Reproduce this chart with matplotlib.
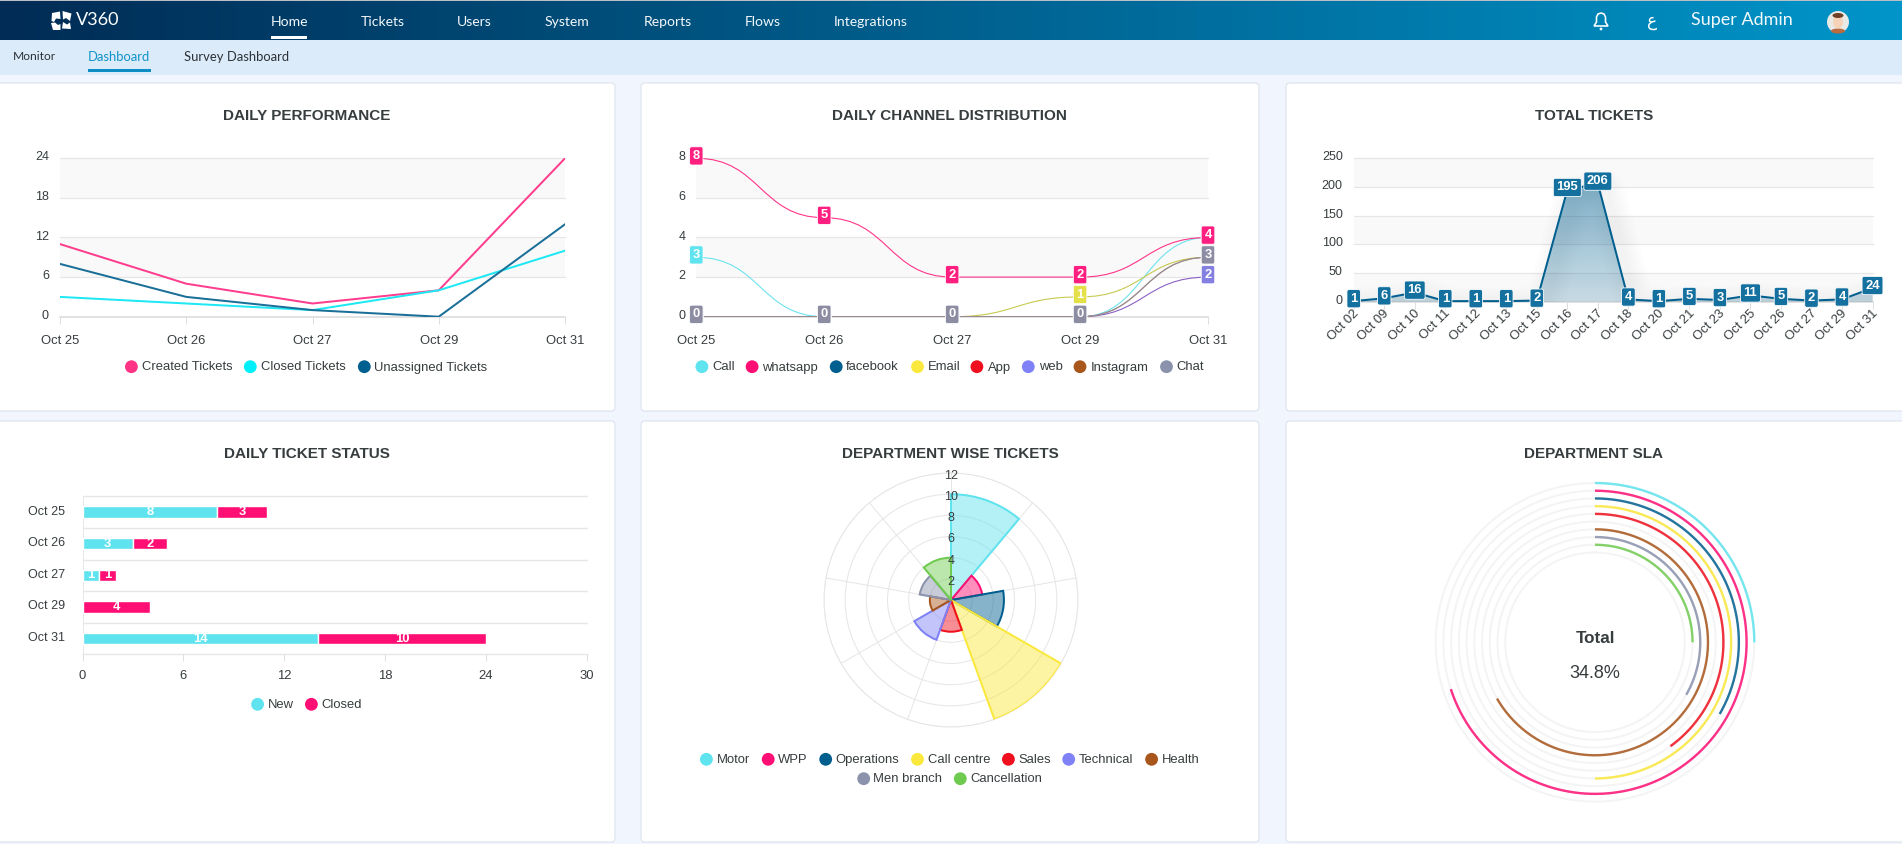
import numpy as np
import matplotlib
matplotlib.use("Agg")
import matplotlib.pyplot as plt
import matplotlib.transforms as mt
from matplotlib.patches import FancyBboxPatch, Rectangle, Circle, Polygon, Ellipse, PathPatch
from matplotlib.path import Path
from matplotlib.colors import to_rgb

W, H, DPI = 1902, 844, 100
plt.rcParams['font.family'] = ['Liberation Sans', 'DejaVu Sans']
INK = '#373d3f'
GRID = '#e6e6e6'
BAND = '#f9f9f9'
CYAN, PINK, NAVY, YEL, RED, VIO, BRN, SLATE, GRN = ('#5fe3ee', '#ff0f74', '#005f8f', '#fbe83c', '#f00f1e',
                                                    '#7f82f6', '#a8561c', '#8a92ac', '#6fcb50')
def pt(px):
    return px * 72 / DPI

# ---- data ----
perf_days = ['Oct 25', 'Oct 26', 'Oct 27', 'Oct 29', 'Oct 31']
perf_created = [11, 5, 2, 4, 24]
perf_closed = [3, 2, 1, 4, 10]
perf_unassigned = [8, 3, 1, 0, 14]

chan_call = [3, 0, 0, 0, 4]
chan_whatsapp = [8, 5, 2, 2, 4]
chan_facebook = [0, 0, 0, 0]
chan_email = [0, 0, 0, 1, 3]
chan_app = [0, 0, 0, 0]
chan_web = [0, 0, 0, 0, 2]
chan_instagram = [0, 0, 0, 0, 3]
chan_chat = [0, 0, 0, 0, 3]

total_days = ['Oct 02', 'Oct 09', 'Oct 10', 'Oct 11', 'Oct 12', 'Oct 13', 'Oct 15', 'Oct 16', 'Oct 17',
              'Oct 18', 'Oct 20', 'Oct 21', 'Oct 23', 'Oct 25', 'Oct 26', 'Oct 27', 'Oct 29', 'Oct 31']
total_values = [1, 6, 16, 1, 1, 1, 2, 195, 206, 4, 1, 5, 3, 11, 5, 2, 4, 24]

status_new = [8, 3, 1, 0, 14]
status_closed = [3, 2, 1, 4, 10]

dept_names = ['Motor', 'WPP', 'Operations', 'Call centre', 'Sales', 'Technical', 'Health', 'Men branch', 'Cancellation']
dept_tickets = [10, 3, 5, 12, 3, 4, 2, 3, 4]
dept_sla = [25, 70, 33.3, 50, 40, 0, 66.7, 33.3, 25]
dept_colors = [CYAN, PINK, NAVY, YEL, RED, VIO, BRN, SLATE, GRN]

fig = plt.figure(figsize=(W / DPI, H / DPI), dpi=DPI, facecolor='#f1f6fe')

def px_axes(l, t, r, b, z=1, **kw):
    ax = fig.add_axes([l / W, 1 - b / H, (r - l) / W, (b - t) / H], zorder=z, **kw)
    ax.patch.set_alpha(0)
    return ax

def nudge(dx, dy):
    return mt.ScaledTranslation(dx / DPI, dy / DPI, fig.dpi_scale_trans)

# ---- page chrome ----
bg = px_axes(0, 0, W, H, z=0)
bg.set_xlim(0, W); bg.set_ylim(H, 0); bg.axis('off')
bg.add_patch(Rectangle((0, 0), W, 1.2, fc='#b9bfc4', ec='none'))
bg.add_patch(Rectangle((0, 40), W, 35, fc='#dcebf9', ec='none'))
c0, c1 = np.array(to_rgb('#012c55')), np.array(to_rgb('#0095c9'))
ramp = np.linspace(0, 1, 256)[None, :, None]
bg.imshow(c0 + (c1 - c0) * ramp, extent=(0, W, 40, 1), aspect='auto', interpolation='bilinear')
bg.set_xlim(0, W); bg.set_ylim(H, 0)
for l, t, r, b in [(-10, 83, 615, 411), (641, 83, 1259, 411), (1286, 83, 1915, 411),
                   (-10, 421, 615, 842), (641, 421, 1259, 842), (1286, 421, 1915, 842)]:
    bg.add_patch(FancyBboxPatch((l, t), r - l, b - t, boxstyle='round,pad=0,rounding_size=4',
                                fc='white', ec='#dfe4ec', lw=pt(1.2)))

top = px_axes(0, 0, W, H, z=5)
top.set_xlim(0, W); top.set_ylim(H, 0); top.axis('off')

NAV = ['Lato', 'DejaVu Sans']
for name, x in [('Home', 289), ('Tickets', 383), ('Users', 474.3), ('System', 567.3),
                ('Reports', 667.6), ('Flows', 762.6), ('Integrations', 870.5)]:
    top.text(x, 21.7, name, color='#f2f7fb', ha='center', va='center', fontsize=pt(14), family=NAV)
top.add_patch(Rectangle((271, 36), 36, 3, fc='white', ec='none'))
top.text(13.3, 57, 'Monitor', color='#2b3136', ha='left', va='center', fontsize=pt(12), family=NAV)
top.text(88, 57, 'Dashboard', color='#0f93c9', ha='left', va='center', fontsize=pt(13), family=NAV)
top.text(184, 57, 'Survey Dashboard', color='#2b3136', ha='left', va='center', fontsize=pt(13), family=NAV)
top.add_patch(Rectangle((88, 69), 63, 2.8, fc='#0e8cc4', ec='none'))
top.text(76, 20, 'V360', color='white', ha='left', va='center', fontsize=pt(18), family=NAV)
for pts in [[(52, 13), (60, 11.5), (60.5, 19), (56, 18.5), (54, 22), (51.5, 21)],
            [(62.5, 11), (71.5, 13.5), (70, 21), (66, 18), (63, 19.5)],
            [(51, 23), (55, 22.5), (58, 25), (60.5, 24), (60.5, 30), (53, 30)],
            [(63, 22), (67, 24.5), (70, 22.5), (71, 29), (62, 28.5)]]:
    top.add_patch(Polygon(pts, fc='white', ec='none'))
top.text(1742.3, 20, 'Super Admin', color='#f2f9fc', ha='center', va='center', fontsize=pt(18), family=NAV)
top.text(1652, 21, 'ع', color='white', ha='center', va='center', fontsize=pt(17), family=['DejaVu Sans'])
bell = [(1594, 26), (1596.5, 22), (1596.5, 17), (1598, 14), (1601, 13), (1604, 14), (1605.5, 17), (1605.5, 22), (1608, 26)]
top.add_patch(Polygon(bell, closed=True, fc='none', ec='white', lw=pt(1.6)))
top.add_patch(Circle((1601, 29), 1.4, fc='white', ec='none'))
top.add_patch(Circle((1838, 22), 11, fc='#e9e9e6', ec='none'))
top.add_patch(Ellipse((1838, 31), 14, 5, fc='#b96a3f', ec='none'))
top.add_patch(Ellipse((1838, 22), 10, 13, fc='#f6d3b8', ec='none'))
top.add_patch(Ellipse((1838, 15.5), 11, 5, fc='#6e4028', ec='none'))

def title(txt, x, y):
    top.text(x, y + 1.8, txt, color=INK, ha='center', va='center', fontsize=pt(15.2), fontweight='bold')
title('DAILY PERFORMANCE', 307, 114.3)
title('DAILY CHANNEL DISTRIBUTION', 949.8, 114.3)
title('TOTAL TICKETS', 1594, 114.3)
title('DAILY TICKET STATUS', 307, 452.3)
title('DEPARTMENT WISE TICKETS', 950, 452.3)
title('DEPARTMENT SLA', 1594, 452.3)

def legend(y, items):
    for mx, tx, label, col in items:
        top.add_patch(Circle((mx, y), 6.4, fc=col, ec='none'))
        top.text(tx, y + 0.8, label, color=INK, ha='left', va='center', fontsize=pt(13))

legend(366.7, [(131.4, 141.5, 'Created Tickets', '#ff3385'), (250.3, 260.8, 'Closed Tickets', '#00f0fa'),
               (364.3, 374.5, 'Unassigned Tickets', '#005f8f')])
legend(366.7, [(701.9, 712, 'Call', CYAN), (752.1, 762.2, 'whatsapp', PINK), (836.2, 845.9, 'facebook', NAVY),
               (917.5, 927.6, 'Email', YEL), (976.9, 987.8, 'App', RED), (1028.3, 1038.8, 'web', VIO),
               (1080, 1090.5, 'Instagram', BRN), (1166.5, 1176.7, 'Chat', SLATE)])
legend(704.3, [(257.6, 267.7, 'New', CYAN), (311.4, 321.5, 'Closed', PINK)])
legend(759.3, [(706.4, 716.9, 'Motor', CYAN), (768.2, 778.4, 'WPP', PINK), (825.7, 835.8, 'Operations', NAVY),
               (917.5, 928, 'Call centre', YEL), (1008.4, 1018.6, 'Sales', RED), (1068.7, 1079.2, 'Technical', VIO),
               (1151.6, 1161.7, 'Health', BRN)])
legend(778.7, [(863.7, 873.4, 'Men branch', SLATE), (960.3, 970.4, 'Cancellation', GRN)])

# ---- shared helpers for cartesian panels ----
def cart_style(ax, yticks, bands, xlabels, ylabel_gap):
    ax.set_yticks(yticks)
    ax.tick_params(axis='y', length=0, labelsize=pt(12.5), labelcolor=INK, pad=pt(ylabel_gap))
    ax.tick_params(axis='x', length=pt(6.5), width=pt(1), color='#dedede', labelsize=pt(13), labelcolor=INK, pad=pt(12))
    ax.set_xticks(range(len(xlabels)))
    ax.set_xticklabels(xlabels)
    ax.set_xlim(0, len(xlabels) - 1)
    for s in ax.spines.values():
        s.set_visible(False)
    for lo, hi in bands:
        ax.axhspan(lo, hi, fc=BAND, ec='none', zorder=0)
    for v in yticks:
        ax.axhline(v, color='#dcdcdc' if v == 0 else GRID, lw=pt(1.6 if v == 0 else 1.2), zorder=0.5, clip_on=False)
    for lab in ax.get_yticklabels():
        lab.set_transform(lab.get_transform() + nudge(0, 2.5))

def soft_shadow(ax, x, y, alpha=0.0016, dx=4):
    tr = ax.transData + nudge(dx, -6)
    for w in range(8, 44, 3):
        ax.plot(x, y, color='black', alpha=alpha, lw=pt(w), transform=tr, zorder=0.8,
                solid_capstyle='butt', clip_on=True)

def badge(ax, x, y, txt, col):
    ax.annotate(txt, (x, y), xytext=(0, 2.4), textcoords='offset pixels', ha='center', va='center',
                color='white', fontsize=pt(13), fontweight='bold', zorder=6, annotation_clip=False,
                bbox=dict(boxstyle='round,pad=0.24,rounding_size=0.15', fc=col, ec='white', lw=pt(0.8)))

# ---- Daily performance ----
ax = px_axes(60, 158.3, 565, 316.7)
ax.set_ylim(0, 24)
cart_style(ax, [0, 6, 12, 18, 24], [(18, 24), (6, 12)], perf_days, 11)
xs = np.arange(5)
for vals in (perf_created, perf_unassigned, perf_closed):
    soft_shadow(ax, xs, vals)
for vals, col in [(perf_created, '#ff3d8e'), (perf_closed, '#1de8f4'), (perf_unassigned, '#1a6f99')]:
    ax.plot(xs, vals, color=col, lw=pt(2), zorder=3, solid_joinstyle='miter')

# ---- Daily channel distribution ----
ax = px_axes(696.3, 158.3, 1208, 316.7)
ax.set_ylim(0, 8)
cart_style(ax, [0, 2, 4, 6, 8], [(6, 8), (2, 4)], perf_days, 11)
def smooth(ax, vals, col, lw=1.1):
    verts = [(0, vals[0])]
    codes = [Path.MOVETO]
    for i in range(len(vals) - 1):
        verts += [(i + .5, vals[i]), (i + .5, vals[i + 1]), (i + 1, vals[i + 1])]
        codes += [Path.CURVE4] * 3
    ax.add_patch(PathPatch(Path(verts, codes), fc='none', ec=col, lw=pt(lw), zorder=3))
chan_series = [(chan_call, '#6be3ee', CYAN, True), (chan_whatsapp, '#ff3388', '#ff1f80', True),
               (chan_facebook, '#8a80a0', NAVY, False), (chan_email, '#c6c94f', '#e4e04a', True),
               (chan_app, '#8a80a0', RED, False), (chan_web, '#8a5fc4', '#8480e2', True),
               (chan_instagram, '#a08a84', BRN, False), (chan_chat, '#9a8c90', '#8c8ca3', True)]
for vals in (chan_whatsapp, chan_web, chan_chat):
    soft_shadow(ax, xs, vals)
for vals, lc, bc, show in chan_series:
    smooth(ax, vals, lc)
for vals, lc, bc, show in chan_series:
    if show:
        for i, v in enumerate(vals):
            badge(ax, i, v, str(v), bc)

# ---- Total tickets ----
ax = px_axes(1353.7, 158.3, 1872.5, 301.7)
ax.set_ylim(0, 250)
cart_style(ax, [0, 50, 100, 150, 200, 250], [(200, 250), (100, 150), (0, 50)], total_days, 11)
xs18 = np.arange(len(total_values))
soft_shadow(ax, xs18, total_values, alpha=0.005, dx=7)
poly = ax.fill_between(xs18, total_values, 0, color='none')
grad = np.zeros((64, 2, 4))
grad[..., :3] = to_rgb('#005f8f')
grad[..., 3] = np.linspace(0.5, 0.2, 64)[:, None]
im = ax.imshow(grad, extent=(0, 17, 0, max(total_values)), aspect='auto', zorder=1, interpolation='bilinear')
im.set_clip_path(poly.get_paths()[0], ax.transData)
ax.set_xlim(0, 17); ax.set_ylim(0, 250)
ax.plot(xs18, total_values, color='#005f8f', lw=pt(2), zorder=3, clip_on=False)
for i, v in enumerate(total_values):
    badge(ax, i, v, str(v), '#14709f')
for lab in ax.get_xticklabels():
    lab.set_rotation(45)
    lab.set_ha('right')
    lab.set_va('top')
    lab.set_rotation_mode('anchor')
    lab.set_transform(lab.get_transform() + nudge(-1, 13))

# ---- Daily ticket status ----
ax = px_axes(82.5, 496.3, 587, 654.3)
ypos = np.arange(5) + 0.5
b1 = ax.barh(ypos, status_new, height=0.36, color=CYAN, edgecolor='white', lw=pt(1.4), zorder=3)
b2 = ax.barh(ypos, status_closed, left=status_new, height=0.36, color=PINK, edgecolor='white', lw=pt(1.4), zorder=3)
for bars, vals in ((b1, status_new), (b2, status_closed)):
    ax.bar_label(bars, labels=[str(v) if v else '' for v in vals], label_type='center', color='white',
                 fontsize=pt(13), fontweight='bold', zorder=4)
ax.set_xlim(0, 30); ax.set_ylim(5, 0)
ax.set_yticks(ypos); ax.set_yticklabels(perf_days)
ax.set_xticks(range(0, 31, 6))
ax.tick_params(axis='y', length=0, labelsize=pt(12.5), labelcolor=INK, pad=pt(17))
ax.tick_params(axis='x', length=pt(6.5), width=pt(1), color='#dedede', labelsize=pt(13), labelcolor=INK, pad=pt(9.5))
for s in ('top', 'right', 'bottom'):
    ax.spines[s].set_visible(False)
ax.spines['left'].set_color(GRID); ax.spines['left'].set_linewidth(pt(1))
for v in range(6):
    ax.axhline(v, color=GRID, lw=pt(1.4), zorder=1, clip_on=False)
for lab in ax.get_yticklabels():
    lab.set_transform(lab.get_transform() + nudge(0, 2))

# ---- Department wise tickets ----
ax = px_axes(951 - 127, 600 - 127, 951 + 127, 600 + 127, projection='polar')
ax.set_theta_zero_location('N'); ax.set_theta_direction(-1)
ax.set_ylim(0, 12)
step = 2 * np.pi / len(dept_tickets)
theta = np.arange(len(dept_tickets)) * step
for th, v, c in zip(theta, dept_tickets, dept_colors):
    ax.bar(th, v, width=step, align='edge', color=to_rgb(c) + (0.47,), edgecolor=c, lw=pt(2), zorder=3)
ax.set_thetagrids(np.degrees(theta), [''] * len(theta))
ax.set_yticks(range(2, 13, 2)); ax.set_yticklabels([])
ax.grid(True, color='#e6e6e6', lw=pt(1))
ax.spines['polar'].set_color('#e6e6e6'); ax.spines['polar'].set_linewidth(pt(1))
for r in range(2, 13, 2):
    ax.annotate(str(r), (0, r), xytext=(0, -3), textcoords='offset pixels', ha='center', va='center',
                color=INK, fontsize=pt(12.5), zorder=6, annotation_clip=False)

# ---- Department SLA ----
R = 165
ax = px_axes(1595 - R, 642.3 - R, 1595 + R, 642.3 + R, projection='polar')
ax.set_theta_zero_location('N'); ax.set_theta_direction(-1)
ax.set_ylim(0, R); ax.axis('off')
ring = np.linspace(0, 2 * np.pi, 361)
for i, (pct, col) in enumerate(zip(dept_sla, dept_colors)):
    r = 159.3 - 7.72 * i
    ax.plot(ring, np.full_like(ring, r), color='#f4f4f4', lw=pt(2), zorder=1)
    if pct:
        th = np.linspace(0, 2 * np.pi * pct / 100, 240)
        ax.plot(th, np.full_like(th, r), color=col, lw=pt(2.4), zorder=3, solid_capstyle='butt', alpha=0.85)
ax.plot(ring, np.full_like(ring, 159.3 - 7.72 * 9), color='#f4f4f4', lw=pt(2), zorder=1)
top.text(1595, 638.2, 'Total', color=INK, ha='center', va='center', fontsize=pt(17), fontweight='bold')
top.text(1595, 674, '34.8%', color=INK, ha='center', va='center', fontsize=pt(18))

fig.savefig('out.png', dpi=DPI)
